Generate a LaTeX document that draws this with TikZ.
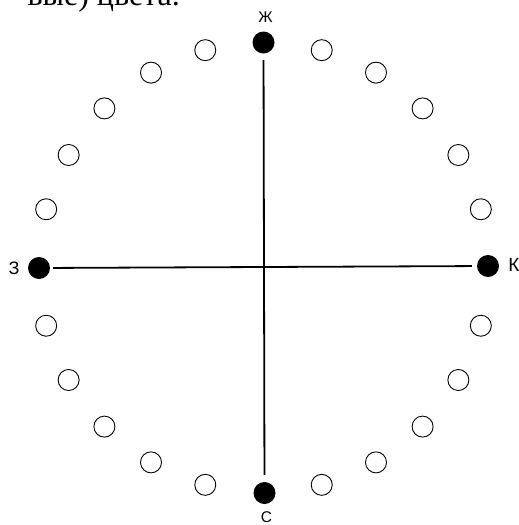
\documentclass[tikz,border=0pt]{standalone}
\usepackage{fontspec}
\usetikzlibrary{calc}
\setmainfont{Liberation Serif}
\newfontfamily\labfont{Liberation Sans}
\begin{document}
\begin{tikzpicture}[x=1pt,y=-1pt,
  opendot/.style={circle,draw=black,line width=0.9pt,minimum size=21pt,inner sep=0pt},
  fulldot/.style={circle,fill=black,minimum size=22pt,inner sep=0pt},
  axis/.style={line width=1.8pt},
  lab/.style={inner sep=0pt,font=\labfont}]
\useasboundingbox (0,0) rectangle (519,525);
\fill[white] (0,0) rectangle (519,525);
\coordinate (O) at (263.5,267.5);
% cropped text at top
\node[anchor=base east,inner sep=0pt,font=\fontsize{32}{36}\selectfont] (top) at (180,5) {вые) цвета.};
% open circles
\foreach \a in {15,30,45,60,75,105,120,135,150,165,195,210,225,240,255,285,300,315,330,345}
  \node[opendot] (c\a) at ($(O)+(\a:225)$) {};
% filled dots
\node[fulldot] (dK) at (488,266) {};
\node[fulldot] (dZh) at (263.5,42.5) {};
\node[fulldot] (dZ) at (39,268) {};
\node[fulldot] (dS) at (264.5,493) {};
% axes
\draw[axis,shorten <=6.5pt,shorten >=7pt] (dZh) -- (dS);
\draw[axis,shorten <=3pt,shorten >=5pt] (dZ) -- (dK);
% labels
\node[lab,font=\labfont\fontsize{15.5}{16}\selectfont] (lZh) at (265.5,17) {Ж};
\node[lab,font=\labfont\fontsize{18}{19}\selectfont] (lZ) at (14,268) {З};
\node[lab,font=\labfont\fontsize{19}{20}\selectfont] (lK) at (514,265) {К};
\node[lab,font=\labfont\fontsize{15.5}{16}\selectfont] (lS) at (266.5,517.5) {С};
\end{tikzpicture}
\end{document}
